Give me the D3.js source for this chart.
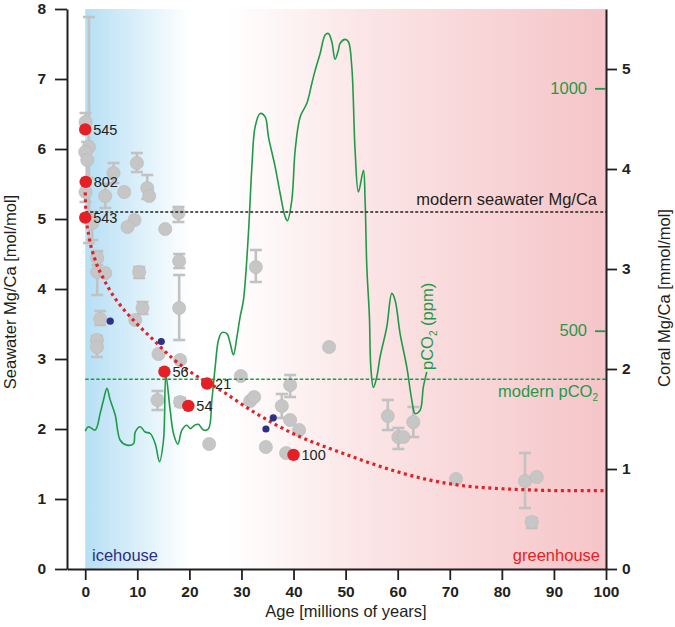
<!DOCTYPE html>
<html><head><meta charset="utf-8">
<script src="https://cdn.jsdelivr.net/npm/d3@7"></script>
<style>
body{margin:0;background:#fff;}
svg{display:block;font-family:"Liberation Sans",Arial,sans-serif;}
</style></head><body>
<svg id="c" width="675" height="627"></svg>
<script>
// ---------- data ----------
const ageTicks = [0,10,20,30,40,50,60,70,80,90,100];
const swTicks = [0,1,2,3,4,5,6,7,8];
const coralTicks = [0,1,2,3,4,5];
const co2Ticks = [500,1000];

// gray: coral Mg/Ca (mmol/mol), right axis
const grayAge   = [0.06,0.71,0.0,0.38,0.06,1.34,2.3,2.3,3.84,3.84,5.43,7.49,9.92,11.9,12.28,9.46,8.12,15.36,17.9,18.04,18.04,10.36,11.0,9.6,2.88,2.25,2.25,14.07,18.23,13.88,18.23,23.8,29.88,31.67,32.44,37.75,39.35,39.35,41.07,34.68,38.58,32.76,46.83,58.1,60.13,61.1,63.0,71.2,84.45,86.7,85.74];
const grayCoral = [4.47,4.22,4.17,4.09,3.77,3.46,3.11,2.97,2.96,3.73,3.96,3.77,4.06,3.81,3.73,3.49,3.42,3.40,3.56,3.08,2.61,2.97,2.61,2.49,2.50,2.29,2.22,2.15,2.09,1.69,1.67,1.25,1.93,1.68,1.72,1.63,1.84,1.49,1.39,1.22,1.16,3.02,2.22,1.53,1.32,1.32,1.47,0.90,0.88,0.92,0.47];
const grayHi    = [4.56,5.52,null,4.27,3.87,3.57,3.18,3.17,null,3.85,4.06,null,4.16,3.94,null,null,null,null,3.62,3.15,2.94,3.02,2.67,null,2.58,null,2.33,null,null,1.78,1.71,null,null,null,null,1.75,1.94,null,null,null,null,3.19,null,1.69,1.41,null,1.62,null,1.16,null,0.51];
const grayLo    = [4.38,3.26,null,3.91,3.67,3.29,3.04,2.74,null,3.61,3.86,null,3.97,3.70,null,null,null,null,3.47,3.01,2.29,2.91,2.55,null,2.44,null,2.12,null,null,1.59,1.63,null,null,null,null,1.51,1.72,null,null,null,null,2.87,null,1.39,1.20,null,1.32,null,0.61,null,0.41];

// red: seawater Mg/Ca (mol/mol), left axis
const redAge   = [0,0.1,0,15.2,23.4,19.8,40.0];
const redSw    = [6.28,5.53,5.02,2.82,2.65,2.33,1.63];
const redLabel = ["545","802","543","56","21","54","100"];

// blue small dots, left axis
const blueAge = [4.8,14.6,36.1,34.7];
const blueSw  = [3.54,3.25,2.16,2.00];

// red dotted seawater curve
const curveAge = [0,0.15,0.73,1.88,3.42,5.34,7.26,9.18,13.0,16.9,20.7,25.9,32.2,41.2,47.0,53.3,59.9,66.2,72.5,79.1,85.4,91.7,100];
const curveSw  = [5.38,5.06,4.75,4.42,4.16,3.91,3.72,3.56,3.28,3.00,2.79,2.56,2.25,1.89,1.72,1.55,1.39,1.27,1.19,1.15,1.13,1.12,1.12];

// green pCO2 (ppm)
const co2Age = [0,0.63,1.92,2.88,3.51,4.17,4.80,5.76,6.72,8.00,9.27,9.60,10.56,11.52,12.48,13.44,14.26,15.03,15.49,16.31,16.95,17.79,18.56,19.52,20.15,20.98,21.75,22.71,23.67,24.32,24.95,25.59,26.24,27.20,27.83,28.46,29.12,29.75,30.38,31.34,32.0,32.63,33.59,34.55,35.18,36.47,37.43,38.39,38.83,39.67,40.31,41.27,42.55,43.51,44.15,45.11,46.07,46.70,47.35,47.98,48.62,48.94,49.90,50.54,51.19,51.82,52.46,53.42,53.74,54.07,54.57,54.84,55.34,55.99,56.62,57.91,58.87,59.50,60.46,61.75,62.71,63.34,64.30,64.93,65.59];
const co2Ppm = [293,302,295,330,357,381,357,326,274,264,267,291,302,291,288,267,230,274,408,336,288,266,295,305,298,305,307,295,298,357,425,481,496,494,474,450,487,529,563,701,838,921,948,941,900,838,783,735,727,769,872,941,969,1010,1037,1072,1110,1113,1096,1060,1079,1093,1101,1096,1044,872,786,831,769,632,529,425,383,405,446,508,577,563,494,425,357,329,336,384,415];

const modernSw = 5.1;
const modernCO2 = 400;

// ---------- drawing ----------
const svg = d3.select("#c");
const L = 67, R = 606, T = 9, B = 569;
const x = d3.scaleLinear().domain([-3.5,100]).range([L,R]);
const ySw = d3.scaleLinear().domain([0,8]).range([B,T]);
const yCoral = d3.scaleLinear().domain([0,5.6]).range([B,T]);
const yCO2 = d3.scaleLinear().domain([8.5,1163.6]).range([B,T]);

const GREEN = "#1f9a48", RED = "#e41f26", NAVY = "#2e2f86", GRAY = "#c6c6c6", EB = "#c2c2c2";

// gradient background
const defs = svg.append("defs");
const g = defs.append("linearGradient").attr("id","bg").attr("x1","0").attr("x2","1").attr("y1","0").attr("y2","0");
[[0,"#b6dff4"],[0.08,"#d3ecf9"],[0.2,"#ffffff"],[0.27,"#ffffff"],[0.55,"#fbe4e5"],[1,"#f5c5c8"]]
  .forEach(s=>g.append("stop").attr("offset",s[0]).attr("stop-color",s[1]));
svg.append("rect").attr("x",x(0)).attr("y",T).attr("width",x(100)-x(0)).attr("height",B-T).attr("fill","url(#bg)");

// gray error bars
const gi = d3.range(grayAge.length);
const eb = svg.append("g").attr("stroke",EB).attr("stroke-width",2.6).attr("fill","none");
gi.filter(i=>grayHi[i]!=null).forEach(i=>{
  const cx = x(grayAge[i]);
  eb.append("line").attr("x1",cx).attr("x2",cx).attr("y1",yCoral(grayHi[i])).attr("y2",yCoral(grayLo[i]));
  [grayHi[i],grayLo[i]].forEach(v=>eb.append("line").attr("x1",cx-6).attr("x2",cx+6).attr("y1",yCoral(v)).attr("y2",yCoral(v)));
});
// gray points
svg.append("g").selectAll("circle").data(gi).join("circle")
  .attr("cx",i=>x(grayAge[i])).attr("cy",i=>yCoral(grayCoral[i])).attr("r",6.6)
  .attr("fill",GRAY).attr("stroke","#b9b9b9").attr("stroke-width",0.6);

// green pCO2 line
const line = d3.line().x(i=>x(co2Age[i])).y(i=>yCO2(co2Ppm[i])).curve(d3.curveCatmullRom.alpha(0.5));
svg.append("path").attr("d",line(d3.range(co2Age.length))).attr("fill","none").attr("stroke",GREEN).attr("stroke-width",1.6);

// modern lines
svg.append("line").attr("x1",x(0)).attr("x2",R).attr("y1",ySw(modernSw)).attr("y2",ySw(modernSw))
  .attr("stroke","#222").attr("stroke-width",1.3).attr("stroke-dasharray","3,2");
svg.append("line").attr("x1",x(0)).attr("x2",R).attr("y1",yCO2(modernCO2)).attr("y2",yCO2(modernCO2))
  .attr("stroke",GREEN).attr("stroke-width",1.5).attr("stroke-dasharray","3.5,2");

// red dotted curve
const cl = d3.line().x(i=>x(curveAge[i])).y(i=>ySw(curveSw[i])).curve(d3.curveMonotoneX);
svg.append("path").attr("d",cl(d3.range(curveAge.length))).attr("fill","none").attr("stroke",RED)
  .attr("stroke-width",3.2).attr("stroke-dasharray","3,3.6");

// red points + labels
const ri = d3.range(redAge.length);
svg.append("g").selectAll("circle").data(ri).join("circle")
  .attr("cx",i=>x(redAge[i])).attr("cy",i=>ySw(redSw[i])).attr("r",6.2).attr("fill",RED);
svg.append("g").selectAll("text").data(ri).join("text")
  .attr("x",i=>x(redAge[i])+8).attr("y",i=>ySw(redSw[i])+5.5)
  .attr("font-size",14.5).attr("fill","#231f20").text(i=>redLabel[i]);

// blue points
svg.append("g").selectAll("circle").data(d3.range(blueAge.length)).join("circle")
  .attr("cx",i=>x(blueAge[i])).attr("cy",i=>ySw(blueSw[i])).attr("r",3.6).attr("fill",NAVY);

// axes
function styleAxis(sel){
  sel.select(".domain").attr("stroke","#231f20").attr("stroke-width",2);
  sel.selectAll(".tick line").attr("stroke","#231f20").attr("stroke-width",1.8);
  sel.selectAll(".tick text").attr("font-size",15.5).attr("font-weight","bold").attr("fill","#231f20")
     .attr("font-family","'Liberation Sans',Arial,sans-serif");
}
svg.append("g").attr("transform",`translate(${L},0)`)
  .call(d3.axisLeft(ySw).tickValues(swTicks).tickFormat(d3.format("d")).tickSize(12).tickSizeOuter(0).tickPadding(9))
  .call(styleAxis);
svg.append("g").attr("transform",`translate(0,${B})`)
  .call(d3.axisBottom(x).tickValues(ageTicks).tickFormat(d3.format("d")).tickSize(11).tickSizeOuter(0).tickPadding(6))
  .call(styleAxis);
svg.append("g").attr("transform",`translate(${R},0)`)
  .call(d3.axisRight(yCoral).tickValues(coralTicks).tickFormat(d3.format("d")).tickSize(11).tickSizeOuter(0).tickPadding(5))
  .call(styleAxis);
// pCO2 inner ticks
const co2Ax = svg.append("g").attr("transform",`translate(${R},0)`)
  .call(d3.axisLeft(yCO2).tickValues(co2Ticks).tickFormat(d3.format("d")).tickSize(11).tickSizeOuter(0).tickPadding(8));
co2Ax.select(".domain").remove();
co2Ax.selectAll(".tick line").attr("stroke",GREEN).attr("stroke-width",1.8);
co2Ax.selectAll(".tick text").attr("font-size",16.5).attr("fill",GREEN).attr("font-family","'Liberation Sans',Arial,sans-serif");

// axis titles
svg.append("text").attr("transform","translate(15.5,292) rotate(-90)").attr("text-anchor","middle")
  .attr("font-size",16.5).attr("fill","#231f20").text("Seawater Mg/Ca [mol/mol]");
svg.append("text").attr("transform","translate(670,298) rotate(-90)").attr("text-anchor","middle")
  .attr("font-size",16.5).attr("fill","#231f20").text("Coral Mg/Ca [mmol/mol]");
svg.append("text").attr("x",346).attr("y",617).attr("text-anchor","middle")
  .attr("font-size",16.5).attr("fill","#231f20").text("Age [millions of years]");

// annotations
svg.append("text").attr("x",597).attr("y",205).attr("text-anchor","end").attr("font-size",16.5)
  .attr("fill","#231f20").text("modern seawater Mg/Ca");
const mp = svg.append("text").attr("x",598).attr("y",397).attr("text-anchor","end").attr("font-size",16.5).attr("fill",GREEN);
mp.append("tspan").text("modern pCO");
mp.append("tspan").attr("font-size",10).attr("dy",4).text("2");
const pl = svg.append("text").attr("transform","translate(433,370) rotate(-90)").attr("font-size",16.5).attr("fill",GREEN);
pl.append("tspan").text("pCO");
pl.append("tspan").attr("font-size",10).attr("dy",4).text("2");
pl.append("tspan").attr("dy",-4).text(" (ppm)");
svg.append("text").attr("x",92).attr("y",561).attr("font-size",16.5).attr("fill",NAVY).text("icehouse");
svg.append("text").attr("x",600).attr("y",561).attr("text-anchor","end").attr("font-size",16.5).attr("fill",RED).text("greenhouse");
</script>
</body></html>
